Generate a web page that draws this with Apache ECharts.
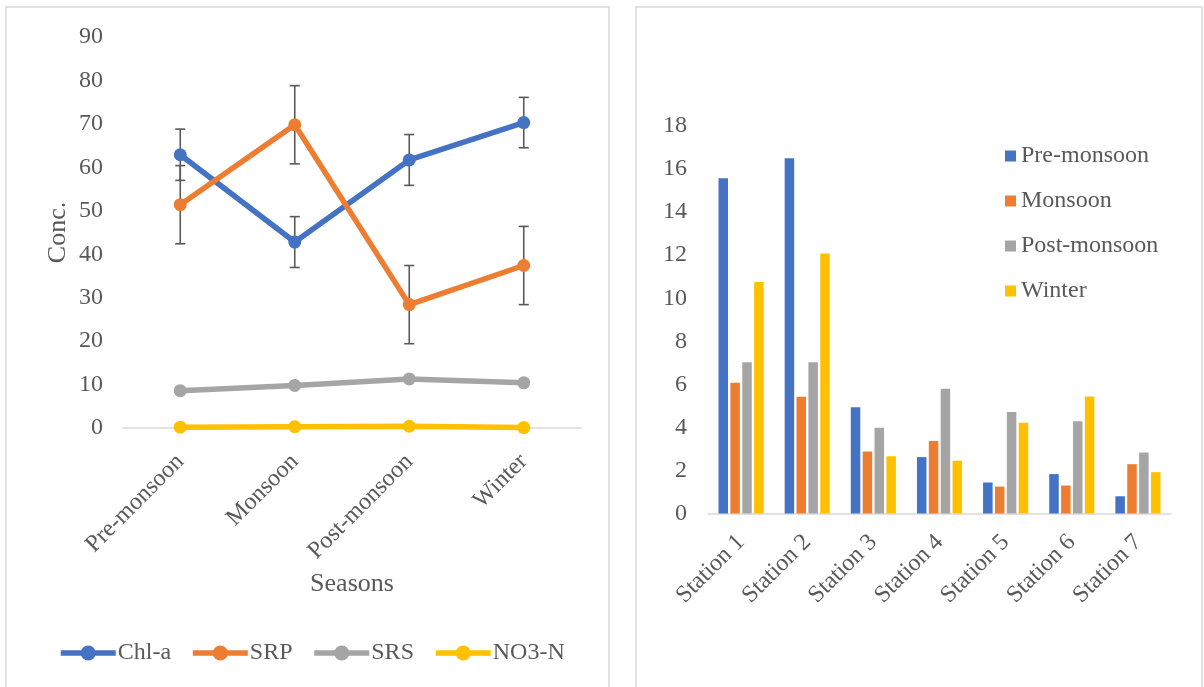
<!DOCTYPE html>
<html>
<head>
<meta charset="utf-8">
<script src="https://cdn.jsdelivr.net/npm/echarts@6/dist/echarts.min.js"></script>
<style>
html,body{margin:0;padding:0;background:#fff;}
#main{width:1204px;height:687px;}
</style>
</head>
<body>
<div id="main"></div>
<script>
// ---- Left chart data ----
const seasons = ['Pre-monsoon', 'Monsoon', 'Post-monsoon', 'Winter'];
const chla = [62.9, 42.8, 61.7, 70.3];
const srp = [51.4, 69.8, 28.4, 37.4];
const srs = [8.6, 9.8, 11.3, 10.4];
const no3n = [0.2, 0.3, 0.4, 0.1];
const chlaErr = [5.9, 5.85, 5.85, 5.8];
const srpErr = [9.0, 9.0, 9.0, 9.0];
const leftTicks = [0, 10, 20, 30, 40, 50, 60, 70, 80, 90];

// ---- Right chart data ----
const stations = ['Station 1', 'Station 2', 'Station 3', 'Station 4', 'Station 5', 'Station 6', 'Station 7'];
const preMonsoon = [15.57, 16.5, 4.93, 2.62, 1.44, 1.83, 0.8];
const monsoon = [6.07, 5.42, 2.88, 3.37, 1.25, 1.3, 2.29];
const postMonsoon = [7.03, 7.03, 3.98, 5.79, 4.71, 4.29, 2.83];
const winter = [10.75, 12.08, 2.66, 2.45, 4.21, 5.44, 1.92];
const rightTicks = [0, 2, 4, 6, 8, 10, 12, 14, 16, 18];

const COLORS = ['#4472C4', '#ED7D31', '#A5A5A5', '#FFC000'];
const TXT = '#595959';
const FONT = '"Liberation Serif", "Times New Roman", serif';

function errSeries(name, vals, errs) {
  return {
    type: 'custom',
    name: name + ' err',
    xAxisIndex: 0, yAxisIndex: 0,
    z: 1,
    silent: true,
    data: vals.map((v, i) => [i, v, errs[i]]),
    renderItem: function (params, api) {
      const i = api.value(0), v = api.value(1), e = api.value(2);
      const hi = api.coord([i, v + e]);
      const lo = api.coord([i, v - e]);
      const hw = 5;
      const st = { stroke: '#595959', lineWidth: 1.6 };
      return {
        type: 'group',
        children: [
          { type: 'line', shape: { x1: hi[0], y1: hi[1], x2: lo[0], y2: lo[1] }, style: st },
          { type: 'line', shape: { x1: hi[0] - hw, y1: hi[1], x2: hi[0] + hw, y2: hi[1] }, style: st },
          { type: 'line', shape: { x1: lo[0] - hw, y1: lo[1], x2: lo[0] + hw, y2: lo[1] }, style: st }
        ]
      };
    }
  };
}

function lineSeries(name, data, color) {
  return {
    type: 'line', name: name, data: data,
    xAxisIndex: 0, yAxisIndex: 0, z: 3,
    symbol: 'circle', symbolSize: 13,
    lineStyle: { width: 5.5, color: color },
    itemStyle: { color: color },
    animation: false
  };
}

function barSeries(name, data, color) {
  return {
    type: 'bar', name: name, data: data,
    xAxisIndex: 1, yAxisIndex: 1,
    barWidth: 9.5, barGap: '25%',
    itemStyle: { color: color },
    animation: false
  };
}

const chart = echarts.init(document.getElementById('main'), null, { renderer: 'canvas' });
chart.setOption({
  animation: false,
  backgroundColor: '#fff',
  textStyle: { fontFamily: FONT, color: TXT },
  graphic: [
    { type: 'rect', shape: { x: 6, y: 7, width: 603, height: 700 }, style: { fill: 'none', stroke: '#d9d9d9', lineWidth: 1.5 }, z: -1 },
    { type: 'rect', shape: { x: 636, y: 7, width: 566, height: 700 }, style: { fill: 'none', stroke: '#d9d9d9', lineWidth: 1.5 }, z: -1 }
  ],
  grid: [
    { left: 123, top: 37, width: 458, height: 391 },
    { left: 708, top: 126, width: 463, height: 387.5 }
  ],
  legend: [
    {
      data: ['Chl-a', 'SRP', 'SRS', 'NO3-N'],
      left: 58, top: 641, padding: 0,
      itemWidth: 55, itemHeight: 19, itemGap: 19,
      lineStyle: { width: 5.5 },
      textStyle: { fontFamily: FONT, fontSize: 24, color: TXT, padding: [0, 0, 0, -3] }
    },
    {
      data: ['Pre-monsoon', 'Monsoon', 'Post-monsoon', 'Winter'],
      orient: 'vertical',
      left: 1005, top: 144, padding: 0,
      icon: 'rect', itemWidth: 11, itemHeight: 11, itemGap: 21,
      textStyle: { fontFamily: FONT, fontSize: 24, color: TXT }
    }
  ],
  xAxis: [
    {
      type: 'category', data: seasons, gridIndex: 0, boundaryGap: true,
      axisLine: { lineStyle: { color: '#d9d9d9', width: 1.5 } },
      axisTick: { show: false },
      axisLabel: { rotate: 45, fontSize: 24, color: TXT, fontFamily: FONT, margin: 30, interval: 0 },
      name: 'Seasons', nameLocation: 'middle', nameGap: 143,
      nameTextStyle: { fontSize: 26, color: TXT, fontFamily: FONT }
    },
    {
      type: 'category', data: stations, gridIndex: 1, boundaryGap: true,
      axisLine: { lineStyle: { color: '#d9d9d9', width: 1.5 } },
      axisTick: { show: false },
      axisLabel: { rotate: 45, fontSize: 24, color: TXT, fontFamily: FONT, margin: 25, interval: 0 }
    }
  ],
  yAxis: [
    {
      type: 'value', gridIndex: 0, min: leftTicks[0], max: leftTicks[leftTicks.length - 1], interval: 10,
      axisLine: { show: false }, axisTick: { show: false }, splitLine: { show: false },
      axisLabel: { fontSize: 24, color: TXT, fontFamily: FONT, margin: 20 },
      name: 'Conc.', nameLocation: 'middle', nameGap: 52,
      nameTextStyle: { fontSize: 26, color: TXT, fontFamily: FONT }
    },
    {
      type: 'value', gridIndex: 1, min: rightTicks[0], max: rightTicks[rightTicks.length - 1], interval: 2,
      axisLine: { show: false }, axisTick: { show: false }, splitLine: { show: false },
      axisLabel: { fontSize: 24, color: TXT, fontFamily: FONT, margin: 21 }
    }
  ],
  series: [
    errSeries('Chl-a', chla, chlaErr),
    errSeries('SRP', srp, srpErr),
    lineSeries('Chl-a', chla, COLORS[0]),
    lineSeries('SRP', srp, COLORS[1]),
    lineSeries('SRS', srs, COLORS[2]),
    lineSeries('NO3-N', no3n, COLORS[3]),
    barSeries('Pre-monsoon', preMonsoon, COLORS[0]),
    barSeries('Monsoon', monsoon, COLORS[1]),
    barSeries('Post-monsoon', postMonsoon, COLORS[2]),
    barSeries('Winter', winter, COLORS[3])
  ]
});
</script>
</body>
</html>
